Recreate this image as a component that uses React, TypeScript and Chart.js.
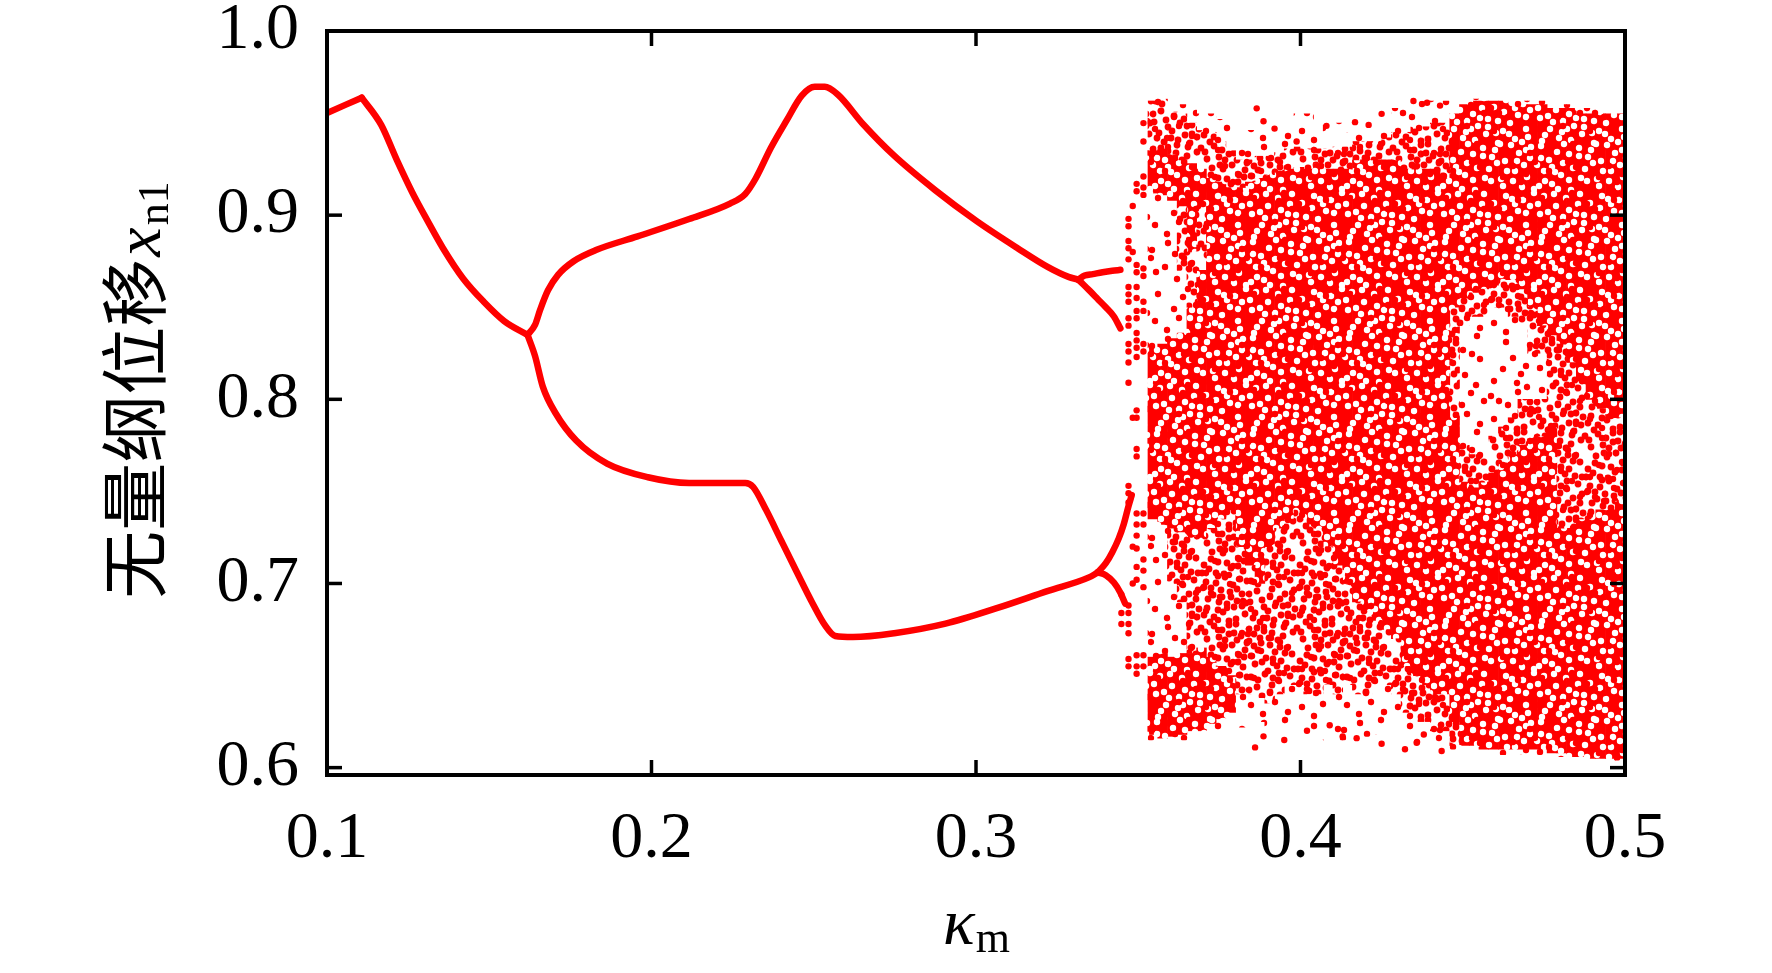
import React, { useEffect, useRef } from 'react';
import { Chart, registerables } from 'chart.js';

Chart.register(...registerables);

const RED = '#ff0000';

const xTicks = [0.1, 0.2, 0.3, 0.4, 0.5];
const yTicks = [0.6, 0.7, 0.8, 0.9, 1.0];

// stable branches, [kappa_m, x_n1]
const singleRise = [[0.1, 0.9555], [0.1107, 0.9638]];
const singleFall = [
  [0.1107, 0.9638], [0.1167, 0.949], [0.1215, 0.93], [0.1262, 0.9126], [0.131, 0.8969],
  [0.1357, 0.8822], [0.142, 0.8655], [0.1483, 0.853], [0.1546, 0.8425], [0.1618, 0.835],
];
const upperBranch = [
  [0.1618, 0.835], [0.1641, 0.8404], [0.1657, 0.8487], [0.1681, 0.8592], [0.1712, 0.8676],
  [0.176, 0.875], [0.1831, 0.8812], [0.1957, 0.8885], [0.2116, 0.8979], [0.2242, 0.9063],
  [0.2289, 0.9115], [0.2321, 0.9199], [0.2368, 0.9366], [0.2416, 0.9513], [0.2463, 0.9649],
  [0.2503, 0.9697], [0.2534, 0.9697], [0.2574, 0.9655], [0.2653, 0.9492], [0.2747, 0.9324],
  [0.2874, 0.9136], [0.3001, 0.8969], [0.3127, 0.8822], [0.3222, 0.8718], [0.3285, 0.8665],
  [0.3315, 0.865],
];
const lowerBranch = [
  [0.1618, 0.835], [0.1641, 0.8236], [0.1665, 0.8069], [0.1705, 0.7923], [0.1768, 0.7776],
  [0.1863, 0.7651], [0.1989, 0.7577], [0.2116, 0.7546], [0.2289, 0.7546], [0.2313, 0.7525],
  [0.2353, 0.74], [0.24, 0.7232], [0.2447, 0.7065], [0.2495, 0.6897], [0.2535, 0.6772],
  [0.2566, 0.6715], [0.2621, 0.6709], [0.2748, 0.673], [0.2906, 0.6782], [0.3064, 0.6866],
  [0.3222, 0.696], [0.3348, 0.7033], [0.3375, 0.706],
];
const upperForkHigh = [[0.3315, 0.865], [0.3335, 0.8672], [0.336, 0.868], [0.339, 0.869], [0.342, 0.8698], [0.3445, 0.8703]];
const upperForkLow = [[0.3315, 0.865], [0.333, 0.8625], [0.335, 0.859], [0.3375, 0.8545], [0.34, 0.85], [0.3425, 0.845], [0.3445, 0.8385]];
const lowerForkHigh = [[0.3375, 0.706], [0.34, 0.711], [0.342, 0.717], [0.344, 0.7245], [0.3455, 0.732], [0.347, 0.742], [0.348, 0.748]];
const lowerForkLow = [[0.3375, 0.706], [0.34, 0.7045], [0.3425, 0.7005], [0.3445, 0.695], [0.346, 0.689]];

// scattered dots before the chaotic band
const transitionDots = [
  [0.3448, 0.694], [0.3448, 0.684], [0.3448, 0.678],
  [0.347, 0.898], [0.347, 0.894], [0.347, 0.886], [0.347, 0.882], [0.347, 0.876], [0.347, 0.861],
  [0.347, 0.857], [0.347, 0.853], [0.347, 0.844], [0.347, 0.84], [0.347, 0.83], [0.347, 0.826],
  [0.347, 0.82], [0.347, 0.809], [0.347, 0.753], [0.347, 0.749], [0.347, 0.744], [0.347, 0.688],
  [0.347, 0.684], [0.347, 0.678], [0.347, 0.673], [0.347, 0.659], [0.347, 0.655],
  [0.3483, 0.905], [0.3483, 0.88], [0.3483, 0.79], [0.3483, 0.72], [0.3483, 0.70],
  [0.3495, 0.917], [0.3495, 0.913], [0.3495, 0.873], [0.3495, 0.869], [0.3495, 0.861], [0.3495, 0.855],
  [0.3495, 0.848], [0.3495, 0.844], [0.3495, 0.836], [0.3495, 0.832], [0.3495, 0.828], [0.3495, 0.823],
  [0.3495, 0.794], [0.3495, 0.79], [0.3495, 0.773], [0.3495, 0.769], [0.3495, 0.738], [0.3495, 0.732],
  [0.3495, 0.726], [0.3495, 0.719], [0.3495, 0.709], [0.3495, 0.702], [0.3495, 0.661], [0.3495, 0.655],
  [0.3495, 0.651],
  [0.3516, 0.95], [0.3516, 0.94], [0.3516, 0.921], [0.3516, 0.915], [0.3516, 0.911], [0.3516, 0.871],
  [0.3516, 0.867], [0.3516, 0.853], [0.3516, 0.848], [0.3516, 0.83], [0.3516, 0.826], [0.3516, 0.738],
  [0.3516, 0.732], [0.3516, 0.713], [0.3516, 0.707], [0.3516, 0.698], [0.3516, 0.661], [0.3516, 0.655],
];

// isolated dots outside the cloud edges
const strayDots = [
  [0.3865, 0.958], [0.3886, 0.951], [0.3988, 0.94], [0.392, 0.947], [0.408, 0.9485], [0.4168, 0.9505],
  [0.4348, 0.962], [0.443, 0.9595], [0.439, 0.961], [0.425, 0.955], [0.421, 0.949],
  [0.386, 0.611], [0.3886, 0.617], [0.409, 0.623], [0.413, 0.617], [0.4173, 0.616], [0.4322, 0.61],
  [0.4358, 0.6135], [0.438, 0.618], [0.4435, 0.609], [0.402, 0.62], [0.395, 0.615], [0.425, 0.613],
];

// chaotic cloud per kappa column: [kappa, lo, hi]
const cloudSparse = [
  [0.3545, 0.615, 0.963], [0.3575, 0.614, 0.965], [0.3605, 0.615, 0.962], [0.3635, 0.615, 0.96],
  [0.3665, 0.616, 0.958], [0.3695, 0.616, 0.955], [0.3725, 0.617, 0.955], [0.3755, 0.618, 0.952],
  [0.3785, 0.62, 0.95], [0.3815, 0.622, 0.948], [0.3845, 0.625, 0.946], [0.3875, 0.625, 0.945],
  [0.3905, 0.622, 0.944], [0.3935, 0.62, 0.942], [0.3965, 0.62, 0.95], [0.3995, 0.618, 0.955],
  [0.4025, 0.618, 0.955], [0.4055, 0.617, 0.945], [0.4085, 0.615, 0.95], [0.4115, 0.615, 0.95],
  [0.4145, 0.615, 0.945], [0.4175, 0.615, 0.95], [0.4205, 0.617, 0.945], [0.4235, 0.618, 0.945],
  [0.4265, 0.62, 0.952], [0.4295, 0.615, 0.958], [0.4325, 0.612, 0.962], [0.4355, 0.612, 0.962],
  [0.4385, 0.612, 0.962], [0.4415, 0.612, 0.962], [0.4445, 0.612, 0.962], [0.4475, 0.61, 0.962],
  [0.4505, 0.608, 0.963], [0.4535, 0.608, 0.963], [0.4565, 0.608, 0.963], [0.4595, 0.608, 0.963],
  [0.4625, 0.607, 0.962], [0.4655, 0.607, 0.962], [0.4685, 0.607, 0.962], [0.4715, 0.607, 0.962],
  [0.4745, 0.607, 0.962], [0.4775, 0.606, 0.96], [0.4805, 0.606, 0.96], [0.4835, 0.605, 0.96],
  [0.4865, 0.605, 0.958], [0.4895, 0.604, 0.958], [0.4925, 0.604, 0.958], [0.4955, 0.604, 0.958],
  [0.4985, 0.604, 0.958],
];
const cloudMedium = [
  [0.3545, 0.935, 0.962], [0.3575, 0.936, 0.963], [0.3605, 0.933, 0.956], [0.3605, 0.7, 0.73],
  [0.3635, 0.93, 0.955], [0.3635, 0.87, 0.905], [0.3635, 0.69, 0.728],
  [0.3665, 0.928, 0.95], [0.3665, 0.85, 0.88], [0.3665, 0.662, 0.725],
  [0.3695, 0.925, 0.946], [0.3695, 0.87, 0.905], [0.3695, 0.665, 0.725],
  [0.3725, 0.92, 0.945], [0.3725, 0.66, 0.73], [0.3755, 0.918, 0.94], [0.3755, 0.655, 0.735],
  [0.3785, 0.915, 0.935], [0.3785, 0.65, 0.74], [0.3815, 0.915, 0.93], [0.3815, 0.64, 0.72],
  [0.3845, 0.918, 0.93], [0.3845, 0.64, 0.71], [0.3875, 0.92, 0.932], [0.3875, 0.638, 0.7],
  [0.3905, 0.922, 0.932], [0.3905, 0.635, 0.72], [0.3935, 0.924, 0.934], [0.3935, 0.64, 0.73],
  [0.3965, 0.925, 0.936], [0.3965, 0.645, 0.735], [0.3995, 0.926, 0.937], [0.3995, 0.645, 0.74],
  [0.4025, 0.925, 0.936], [0.4025, 0.64, 0.735], [0.4055, 0.928, 0.936], [0.4055, 0.64, 0.73],
  [0.4085, 0.925, 0.936], [0.4085, 0.645, 0.72], [0.4115, 0.925, 0.937], [0.4115, 0.64, 0.71],
  [0.4145, 0.925, 0.937], [0.4145, 0.645, 0.7], [0.4175, 0.93, 0.94], [0.4175, 0.64, 0.69],
  [0.4205, 0.93, 0.94], [0.4205, 0.64, 0.685], [0.4235, 0.93, 0.94], [0.4235, 0.645, 0.68],
  [0.4265, 0.93, 0.942], [0.4265, 0.645, 0.675], [0.4295, 0.93, 0.945], [0.4295, 0.64, 0.67],
  [0.4325, 0.925, 0.945], [0.4325, 0.63, 0.655], [0.4355, 0.925, 0.948], [0.4355, 0.625, 0.65],
  [0.4385, 0.925, 0.948], [0.4385, 0.625, 0.645], [0.4415, 0.925, 0.95], [0.4415, 0.62, 0.64],
  [0.4445, 0.92, 0.95], [0.4445, 0.62, 0.64], [0.4475, 0.79, 0.85], [0.4475, 0.612, 0.625],
  [0.4505, 0.84, 0.855], [0.4505, 0.755, 0.775], [0.4535, 0.845, 0.858], [0.4535, 0.752, 0.77],
  [0.4565, 0.845, 0.86], [0.4565, 0.755, 0.772], [0.4595, 0.85, 0.862], [0.4595, 0.76, 0.78],
  [0.4625, 0.85, 0.865], [0.4625, 0.765, 0.785], [0.4655, 0.845, 0.865], [0.4655, 0.77, 0.79],
  [0.4685, 0.84, 0.86], [0.4685, 0.775, 0.8], [0.4715, 0.825, 0.85], [0.4715, 0.78, 0.8],
  [0.4745, 0.825, 0.84], [0.4745, 0.78, 0.8], [0.4775, 0.785, 0.835], [0.4805, 0.73, 0.83],
  [0.4835, 0.73, 0.82], [0.4865, 0.735, 0.81], [0.4895, 0.735, 0.8], [0.4925, 0.74, 0.795],
  [0.4955, 0.74, 0.79], [0.4985, 0.745, 0.79],
];
const cloudDense = [
  [0.3545, 0.912, 0.935], [0.3545, 0.735, 0.828], [0.3545, 0.618, 0.66],
  [0.3575, 0.911, 0.936], [0.3575, 0.732, 0.83], [0.3575, 0.616, 0.662],
  [0.3605, 0.908, 0.933], [0.3605, 0.73, 0.833], [0.3605, 0.617, 0.66],
  [0.3635, 0.905, 0.93], [0.3635, 0.728, 0.836], [0.3635, 0.618, 0.662],
  [0.3665, 0.88, 0.928], [0.3665, 0.725, 0.85], [0.3665, 0.62, 0.662],
  [0.3695, 0.905, 0.925], [0.3695, 0.725, 0.87], [0.3695, 0.62, 0.665],
  [0.3725, 0.73, 0.92], [0.3725, 0.624, 0.66], [0.3755, 0.735, 0.918], [0.3755, 0.627, 0.655],
  [0.3785, 0.74, 0.915], [0.3785, 0.63, 0.65], [0.3815, 0.72, 0.915], [0.3845, 0.71, 0.918],
  [0.3875, 0.7, 0.92], [0.3905, 0.72, 0.922], [0.3935, 0.73, 0.924], [0.3965, 0.735, 0.925],
  [0.3995, 0.74, 0.926], [0.4025, 0.735, 0.925], [0.4055, 0.73, 0.928], [0.4085, 0.72, 0.925],
  [0.4115, 0.71, 0.925], [0.4145, 0.7, 0.925], [0.4175, 0.69, 0.93], [0.4205, 0.685, 0.93],
  [0.4235, 0.68, 0.93], [0.4265, 0.675, 0.93], [0.4295, 0.67, 0.93], [0.4325, 0.655, 0.925],
  [0.4355, 0.65, 0.925], [0.4385, 0.645, 0.925], [0.4415, 0.64, 0.925], [0.4445, 0.64, 0.92],
  [0.4475, 0.85, 0.955], [0.4475, 0.625, 0.79], [0.4505, 0.855, 0.96], [0.4505, 0.612, 0.755],
  [0.4535, 0.858, 0.962], [0.4535, 0.612, 0.752], [0.4565, 0.86, 0.962], [0.4565, 0.61, 0.755],
  [0.4595, 0.862, 0.962], [0.4595, 0.61, 0.76], [0.4625, 0.865, 0.962], [0.4625, 0.61, 0.765],
  [0.4655, 0.865, 0.96], [0.4655, 0.61, 0.77], [0.4685, 0.86, 0.96], [0.4685, 0.61, 0.775],
  [0.4715, 0.85, 0.96], [0.4715, 0.61, 0.78], [0.4745, 0.84, 0.96], [0.4745, 0.61, 0.78],
  [0.4775, 0.835, 0.958], [0.4775, 0.608, 0.785], [0.4805, 0.83, 0.958], [0.4805, 0.608, 0.73],
  [0.4835, 0.82, 0.958], [0.4835, 0.606, 0.73], [0.4865, 0.81, 0.955], [0.4865, 0.606, 0.735],
  [0.4895, 0.8, 0.955], [0.4895, 0.605, 0.735], [0.4925, 0.795, 0.955], [0.4925, 0.605, 0.74],
  [0.4955, 0.79, 0.955], [0.4955, 0.605, 0.74], [0.4985, 0.79, 0.955], [0.4985, 0.605, 0.745],
];

// dot texture for the cloud: a 48px motif, turned and shifted into a 96px tile
const CELL = 48;
const sparseSpots = [[6, 6], [31, 9], [22, 21], [44, 17], [3, 33], [27, 30], [15, 42], [40, 40], [36, 1]];
const mediumSpots = [
  [3, 5], [17, 2], [30, 8], [42, 4], [9, 15], [24, 13], [37, 18], [46, 14], [2, 26], [14, 24],
  [28, 27], [40, 29], [7, 37], [20, 35], [33, 39], [45, 41], [12, 46], [26, 44], [38, 47], [22, 20],
  [5, 42], [35, 30], [16, 31], [44, 23], [10, 8], [40, 38], [31, 1], [19, 42], [47, 33], [1, 18],
  [25, 6], [32, 23],
];
const denseHoles = [
  [8, 4], [30, 6], [20, 14], [42, 12], [4, 22], [27, 25], [38, 30], [14, 33], [46, 38], [23, 42],
  [6, 45], [35, 44], [18, 2], [12, 20], [33, 18], [40, 22], [2, 12], [26, 36], [44, 2], [17, 26],
  [31, 33], [9, 39],
];

function makeTile(spots: number[][], r: number, filled: boolean) {
  const size = CELL * 2;
  const c = document.createElement('canvas');
  c.width = size;
  c.height = size;
  const g = c.getContext('2d')!;
  if (filled) {
    g.fillStyle = RED;
    g.fillRect(0, 0, size, size);
    g.globalCompositeOperation = 'destination-out';
    g.fillStyle = '#000';
  } else {
    g.fillStyle = RED;
  }
  const m = (v: number) => ((v % CELL) + CELL) % CELL;
  const placed: number[][] = [];
  for (const [sx, sy] of spots) {
    placed.push([sx, sy]);
    placed.push([CELL + m(CELL - 1 - sy + 13), m(sx + 29)]);
    placed.push([m(sy + 31), CELL + m(CELL - 1 - sx + 7)]);
    placed.push([CELL + m(CELL - 1 - sx + 22), CELL + m(CELL - 1 - sy + 40)]);
  }
  for (const [px, py] of placed) {
    for (const ox of [-size, 0, size]) {
      for (const oy of [-size, 0, size]) {
        g.beginPath();
        g.arc(px + ox, py + oy, r, 0, Math.PI * 2);
        g.fill();
      }
    }
  }
  return c;
}

const toPoints = (rows: number[][]) => rows.map(([x, y]) => ({ x, y }));
const toBands = (rows: number[][]) => rows.map(([x, lo, hi]) => ({ x, y: [lo, hi] }));

const frameAndTitles = {
  id: 'frameAndTitles',
  afterDraw(chart: any) {
    const { ctx, chartArea: a } = chart;
    const xs = chart.scales.x;
    const ys = chart.scales.y;
    ctx.save();
    ctx.strokeStyle = '#000';
    ctx.lineWidth = 4;
    ctx.strokeRect(a.left, a.top, a.right - a.left, a.bottom - a.top);
    ctx.lineWidth = 3.5;
    const seg = (x1: number, y1: number, x2: number, y2: number) => {
      ctx.beginPath();
      ctx.moveTo(x1, y1);
      ctx.lineTo(x2, y2);
      ctx.stroke();
    };
    const len = 15;
    for (const v of xTicks) {
      const px = xs.getPixelForValue(v);
      seg(px, a.bottom, px, a.bottom - len);
      seg(px, a.top, px, a.top + len);
    }
    for (const v of yTicks) {
      const py = ys.getPixelForValue(v);
      seg(a.left, py, a.left + len, py);
      seg(a.right, py, a.right - len, py);
    }

    ctx.fillStyle = '#000';
    ctx.textBaseline = 'alphabetic';
    ctx.textAlign = 'left';

    // x title: kappa_m
    const big = 'italic 66px "Liberation Serif"';
    const sub = '44px "Liberation Serif"';
    ctx.font = big;
    const wk = ctx.measureText('κ').width;
    ctx.font = sub;
    const wm = ctx.measureText('m').width;
    const cx = (a.left + a.right) / 2;
    const x0 = cx - (wk + wm) / 2;
    ctx.font = big;
    ctx.fillText('κ', x0, 944);
    ctx.font = sub;
    ctx.fillText('m', x0 + wk + 1, 952);

    // y title
    const cjk = '68px "Noto Sans CJK SC"';
    const label = '无量纲位移';
    ctx.font = cjk;
    const w1 = ctx.measureText(label).width;
    ctx.font = big;
    const w2 = ctx.measureText('x').width;
    ctx.font = sub;
    const w3 = ctx.measureText('n1').width;
    const total = w1 + w2 + w3 + 4;
    ctx.translate(160, 390);
    ctx.rotate(-Math.PI / 2);
    let u = -total / 2;
    ctx.font = cjk;
    ctx.fillText(label, u, 0);
    u += w1 + 2;
    ctx.font = big;
    ctx.fillText('x', u, 0);
    u += w2 + 2;
    ctx.font = sub;
    ctx.fillText('n1', u, 8);
    ctx.restore();
  },
};

export default function App() {
  const canvasRef = useRef<HTMLCanvasElement | null>(null);

  useEffect(() => {
    document.body.style.margin = '0';
    const canvas = canvasRef.current;
    if (!canvas) return;
    const ctx = canvas.getContext('2d')!;
    const sparseFill = ctx.createPattern(makeTile(sparseSpots, 3.2, false), 'repeat');
    const mediumFill = ctx.createPattern(makeTile(mediumSpots, 3.4, false), 'repeat');
    const denseFill = ctx.createPattern(makeTile(denseHoles, 3.2, true), 'repeat');

    const line = (rows: number[][]) => ({
      type: 'line' as const,
      data: toPoints(rows),
      borderColor: RED,
      borderWidth: 6.5,
      pointRadius: 0,
      cubicInterpolationMode: 'monotone' as const,
      borderJoinStyle: 'round' as const,
      borderCapStyle: 'round' as const,
      fill: false,
      order: 1,
    });

    const chart = new Chart(canvas, {
      type: 'bar',
      data: {
        datasets: [
          line(singleRise),
          line(singleFall),
          line(upperBranch),
          line(lowerBranch),
          line(upperForkHigh),
          line(upperForkLow),
          line(lowerForkHigh),
          line(lowerForkLow),
          {
            type: 'scatter',
            data: toPoints([...transitionDots, ...strayDots]),
            backgroundColor: RED,
            borderWidth: 0,
            pointRadius: 3.2,
            order: 2,
          },
          { type: 'bar', data: toBands(cloudDense), backgroundColor: denseFill, order: 3 },
          { type: 'bar', data: toBands(cloudMedium), backgroundColor: mediumFill, order: 4 },
          { type: 'bar', data: toBands(cloudSparse), backgroundColor: sparseFill, order: 5 },
        ] as any,
      },
      options: {
        animation: false,
        responsive: false,
        events: [],
        layout: { padding: { top: 31, right: 147, left: 0, bottom: 0 } },
        plugins: { legend: { display: false }, tooltip: { enabled: false } },
        datasets: {
          bar: { grouped: false, barPercentage: 1, categoryPercentage: 1, borderWidth: 0 },
        },
        scales: {
          x: {
            type: 'linear',
            min: 0.1,
            max: 0.5,
            offset: false,
            grid: { display: false },
            border: { display: false },
            afterBuildTicks: (s: any) => {
              s.ticks = xTicks.map((value) => ({ value }));
            },
            afterFit: (s: any) => {
              s.height = 198;
              s.paddingLeft = 0;
              s.paddingRight = 0;
            },
            ticks: {
              padding: 17,
              color: '#000',
              maxRotation: 0,
              autoSkip: false,
              font: { family: '"Liberation Serif"', size: 66 },
              callback: (v: any) => Number(v).toFixed(1),
            },
          },
          y: {
            type: 'linear',
            min: 0.596,
            max: 1.0,
            grid: { display: false },
            border: { display: false },
            afterBuildTicks: (s: any) => {
              s.ticks = yTicks.map((value) => ({ value }));
            },
            afterFit: (s: any) => {
              s.width = 327;
              s.paddingTop = 0;
              s.paddingBottom = 0;
            },
            ticks: {
              padding: 20,
              color: '#000',
              autoSkip: false,
              font: { family: '"Liberation Serif"', size: 66 },
              callback: (v: any) => Number(v).toFixed(1),
            },
          },
        },
      },
      plugins: [frameAndTitles],
    });

    return () => chart.destroy();
  }, []);

  return (
    <div style={{ position: 'absolute', left: 0, top: 0, width: 1772, height: 973, background: '#fff' }}>
      <canvas ref={canvasRef} width={1772} height={973} />
    </div>
  );
}
